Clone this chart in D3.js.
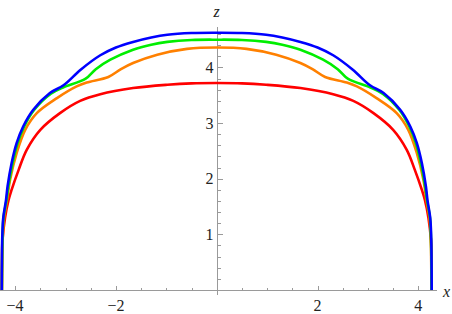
<!DOCTYPE html>
<html lang="en">
<head>
<meta charset="UTF-8">
<title>z profiles</title>
<script src="https://cdnjs.cloudflare.com/ajax/libs/d3/7.8.5/d3.min.js"></script>
<style>
    body { margin: 0; background: white; }
    .axis line { stroke: #9a9a9a; shape-rendering: crispEdges; }
</style>
</head>
<body>
<script>
    // curve values (x, z)
    var blueX = [-4.265, -4.262, -4.255, -4.235, -4.18, -4.15, -4.07, -3.97, -3.84, -3.64, -3.31, -3.04, -2.70, -2.31, -2.00, -1.66, -1.30, -0.98, -0.50, 0,
        0.50, 0.98, 1.30, 1.66, 2.00, 2.31, 2.70, 3.04, 3.31, 3.64, 3.84, 3.97, 4.07, 4.15, 4.18, 4.235, 4.255, 4.262, 4.265];
    var blueZ = [0, 0.5, 0.95, 1.3, 1.62, 1.86, 2.28, 2.64, 2.94, 3.24, 3.54, 3.68, 3.96, 4.22, 4.36, 4.46, 4.54, 4.59, 4.62, 4.625,
        4.62, 4.59, 4.54, 4.46, 4.36, 4.22, 3.96, 3.68, 3.54, 3.24, 2.94, 2.64, 2.28, 1.86, 1.62, 1.3, 0.95, 0.5, 0];

    var greenX = [-4.262, -4.258, -4.25, -4.23, -4.17, -4.135, -4.05, -3.95, -3.82, -3.62, -3.29, -3.05, -2.60, -2.40, -2.11, -1.66, -1.30, -0.98, -0.50, 0,
        0.50, 0.98, 1.30, 1.66, 2.11, 2.40, 2.60, 3.05, 3.29, 3.62, 3.82, 3.95, 4.05, 4.135, 4.17, 4.23, 4.25, 4.258, 4.262];
    var greenZ = [0, 0.5, 0.95, 1.3, 1.62, 1.86, 2.28, 2.64, 2.94, 3.24, 3.53, 3.64, 3.80, 3.97, 4.14, 4.32, 4.41, 4.46, 4.495, 4.50,
        4.495, 4.46, 4.41, 4.32, 4.14, 3.97, 3.80, 3.64, 3.53, 3.24, 2.94, 2.64, 2.28, 1.86, 1.62, 1.3, 0.95, 0.5, 0];

    var orangeX = [-4.26, -4.255, -4.245, -4.22, -4.16, -4.10, -3.97, -3.80, -3.57, -3.17, -2.78, -2.58, -2.15, -1.90, -1.66, -1.18, -0.59, 0,
        0.59, 1.18, 1.66, 1.90, 2.15, 2.58, 2.78, 3.17, 3.57, 3.80, 3.97, 4.10, 4.16, 4.22, 4.245, 4.255, 4.26];
    var orangeZ = [0, 0.5, 0.95, 1.3, 1.62, 1.98, 2.46, 2.88, 3.18, 3.45, 3.66, 3.73, 3.83, 3.97, 4.08, 4.23, 4.335, 4.36,
        4.335, 4.23, 4.08, 3.97, 3.83, 3.73, 3.66, 3.45, 3.18, 2.88, 2.46, 1.98, 1.62, 1.3, 0.95, 0.5, 0];

    var redX = [-4.265, -4.262, -4.25, -4.20, -4.13, -4.07, -3.93, -3.77, -3.50, -3.11, -2.71, -2.31, -1.66, -0.98, -0.50, 0,
        0.50, 0.98, 1.66, 2.31, 2.71, 3.11, 3.50, 3.77, 3.93, 4.07, 4.13, 4.20, 4.25, 4.262, 4.265];
    var redZ = [0, 0.4, 0.9, 1.3, 1.62, 1.80, 2.16, 2.52, 2.88, 3.18, 3.40, 3.52, 3.63, 3.69, 3.715, 3.72,
        3.715, 3.69, 3.63, 3.52, 3.40, 3.18, 2.88, 2.52, 2.16, 1.80, 1.62, 1.3, 0.9, 0.4, 0];

    var xMajor = [-4, -2, 2, 4];
    var xMinor = [-3.5, -3, -2.5, -1.5, -1, -0.5, 0.5, 1, 1.5, 2.5, 3, 3.5];
    var zMajor = [1, 2, 3, 4];
    var zMinor = [0.2, 0.4, 0.6, 0.8, 1.2, 1.4, 1.6, 1.8, 2.2, 2.4, 2.6, 2.8, 3.2, 3.4, 3.6, 3.8, 4.2, 4.4, 4.6];

    var series = [
        { xs: redX, zs: redZ, color: "#ff0000" },
        { xs: orangeX, zs: orangeZ, color: "#ff8000" },
        { xs: greenX, zs: greenZ, color: "#00ee00" },
        { xs: blueX, zs: blueZ, color: "#0000ff" }
    ];

    var W = 452, H = 314;
    var serif = "'Liberation Serif', 'Times New Roman', serif";
    var x = d3.scaleLinear().domain([-4.3, 4.37]).range([0, 437]);
    var y = d3.scaleLinear().domain([0, 4.71]).range([290, 28]);

    var svg = d3.select("body").append("svg")
        .attr("width", W)
        .attr("height", H);

    // x axis, ticks pointing up into the plot
    var gx = svg.append("g").attr("class", "axis")
        .attr("transform", "translate(0," + (Math.round(y(0)) + 0.5) + ")");
    gx.append("line").attr("x1", 0).attr("x2", 437).attr("y1", 0).attr("y2", 0);
    gx.selectAll(".maj").data(xMajor).enter().append("line")
        .attr("x1", function(d) { return Math.round(x(d)) + 0.5; })
        .attr("x2", function(d) { return Math.round(x(d)) + 0.5; })
        .attr("y1", 0).attr("y2", -5);
    gx.selectAll(".min").data(xMinor).enter().append("line")
        .attr("x1", function(d) { return Math.round(x(d)) + 0.5; })
        .attr("x2", function(d) { return Math.round(x(d)) + 0.5; })
        .attr("y1", 0).attr("y2", -3);
    gx.selectAll("text").data(xMajor).enter().append("text")
        .attr("x", function(d) { return x(d); })
        .attr("y", 20)
        .attr("text-anchor", "middle")
        .attr("font-family", serif)
        .attr("font-size", 16)
        .attr("fill", "#222")
        .text(function(d) { return d < 0 ? "\u2212" + (-d) : d; });

    // z axis, ticks pointing right
    var gy = svg.append("g").attr("class", "axis")
        .attr("transform", "translate(" + (Math.round(x(0)) + 0.5) + ",0)");
    gy.append("line").attr("x1", 0).attr("x2", 0).attr("y1", 27).attr("y2", 295);
    gy.selectAll(".maj").data(zMajor).enter().append("line")
        .attr("y1", function(d) { return Math.round(y(d)) + 0.5; })
        .attr("y2", function(d) { return Math.round(y(d)) + 0.5; })
        .attr("x1", 0).attr("x2", 5);
    gy.selectAll(".min").data(zMinor).enter().append("line")
        .attr("y1", function(d) { return Math.round(y(d)) + 0.5; })
        .attr("y2", function(d) { return Math.round(y(d)) + 0.5; })
        .attr("x1", 0).attr("x2", 3);
    gy.selectAll("text").data(zMajor).enter().append("text")
        .attr("x", -4)
        .attr("y", function(d) { return y(d) + 5.5; })
        .attr("text-anchor", "end")
        .attr("font-family", serif)
        .attr("font-size", 16)
        .attr("fill", "#222")
        .text(function(d) { return d; });

    svg.append("text")
        .attr("x", 443).attr("y", 297)
        .attr("font-family", serif).attr("font-style", "italic").attr("font-size", 16).attr("fill", "#222")
        .text("x");
    svg.append("text")
        .attr("x", x(0)).attr("y", 17).attr("text-anchor", "middle")
        .attr("font-family", serif).attr("font-style", "italic").attr("font-size", 16).attr("fill", "#222")
        .text("z");

    var line = d3.line()
        .x(function(d) { return x(d[0]); })
        .y(function(d) { return y(d[1]); })
        .curve(d3.curveCatmullRom.alpha(0.5));

    svg.selectAll(".curve").data(series).enter().append("path")
        .attr("class", "curve")
        .attr("fill", "none")
        .attr("stroke", function(d) { return d.color; })
        .attr("stroke-width", 2.6)
        .attr("stroke-linejoin", "round")
        .attr("d", function(d) { return line(d3.zip(d.xs, d.zs)); });
</script>
</body>
</html>
